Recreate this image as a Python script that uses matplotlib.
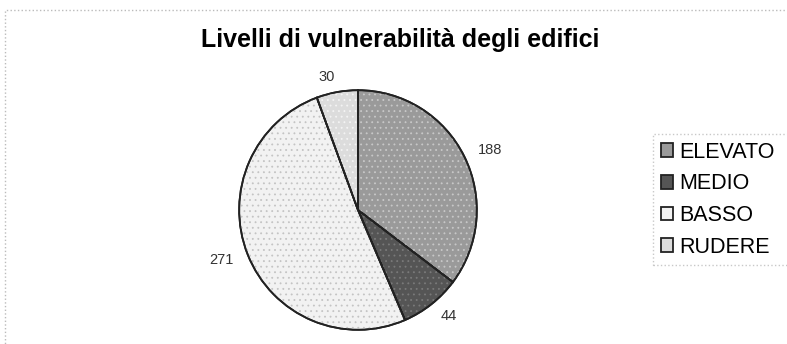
import matplotlib
matplotlib.use('Agg')
import matplotlib.pyplot as plt
from matplotlib.patches import Rectangle

plt.rcParams['font.family'] = ['Liberation Sans', 'DejaVu Sans']
plt.rcParams['hatch.linewidth'] = 0.6

# data
labels = ['ELEVATO', 'MEDIO', 'BASSO', 'RUDERE']
values = [188, 44, 271, 30]
colors = ['#9a9a9a', '#555555', '#f2f2f2', '#dcdcdc']
dot_colors = ['#c8c8c8', '#7a7a7a', '#c4c4c4', '#f4f4f4']

fig = plt.figure(figsize=(7.87, 3.44), dpi=100)

# dotted outer border of the chart area
fig.patches.append(Rectangle((5 / 787, -0.1), 1.2, 1 - 10 / 344 + 0.1,
                             transform=fig.transFigure, fill=False,
                             edgecolor='#bbbbbb', linestyle=':', linewidth=1))

fig.text(400 / 787, 1 - 40 / 344, 'Livelli di vulnerabilità degli edifici',
         ha='center', va='center', fontsize=18, fontweight='bold')

ax = fig.add_axes([238 / 787, 13 / 344, 240 / 787, 242 / 344])
wedges, texts = ax.pie(values, labels=[str(v) for v in values], colors=colors,
                       startangle=90, counterclock=False, labeldistance=1.13,
                       wedgeprops=dict(edgecolor='#222222', linewidth=1.3),
                       textprops=dict(fontsize=10.5, color='#333333'))

# stipple texture on top of the fills
tex, _ = ax.pie(values, colors=['none'] * 4, startangle=90, counterclock=False,
                wedgeprops=dict(linewidth=0))
for w, c in zip(tex, dot_colors):
    w.set_hatch('...')
    w.set_edgecolor(c)
    w.set_linewidth(0)

# redraw outlines so dots stay under them
out, _ = ax.pie(values, colors=['none'] * 4, startangle=90, counterclock=False,
                wedgeprops=dict(edgecolor='#222222', linewidth=1.3))

ax.set_aspect('auto')
ax.set_xlim(-1.01, 1.01)
ax.set_ylim(-1.01, 1.01)

# legend box runs past the right edge like in the original
leg = fig.legend(wedges, labels, loc='upper left', mode='expand',
                 bbox_to_anchor=(653 / 787, 1 - 265 / 344, 0.25, 131 / 344),
                 frameon=True, fancybox=False, fontsize=15.5,
                 handlelength=0.6, handleheight=0.6, handletextpad=0.25,
                 labelspacing=0.5, borderpad=0.35, borderaxespad=0)
leg.get_frame().set_edgecolor('#bbbbbb')
leg.get_frame().set_linestyle(':')

fig.savefig('out.png', dpi=100)
